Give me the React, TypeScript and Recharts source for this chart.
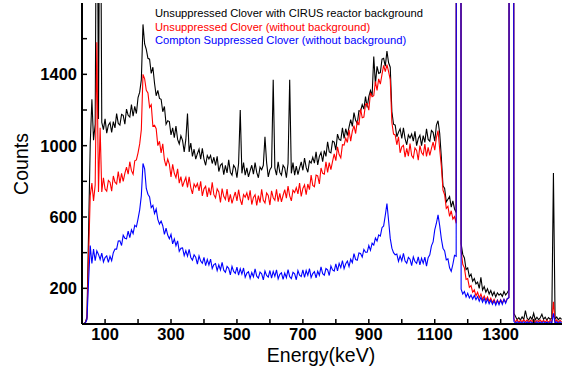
import React from 'react';
import { LineChart, Line, XAxis, YAxis, Legend } from 'recharts';

// spectrum binned at 5 keV starting from 30 keV
const startKeV = 30;
const binKeV = 5;

// Unsuppressed Clover with CIRUS reactor background
const withBackground = [
  0, 2, 8, 40, 520, 1010, 1260, 1030, 1120, 3000, // 30-75
  1150, 3000, 1130, 1090, 1150, 1070, 1115, 1130, 1075, 1135, // 80-125
  1100, 1180, 1125, 1115, 1175, 1170, 1120, 1205, 1170, 1160, // 130-175
  1230, 1165, 1220, 1180, 1270, 1300, 1370, 1680, 1570, 1540, // 180-225
  1490, 1485, 1405, 1440, 1350, 1280, 1310, 1265, 1260, 1190, // 230-275
  1220, 1120, 1140, 1135, 1060, 1100, 1045, 1110, 1035, 1010, // 280-325
  1055, 1030, 965, 1035, 1180, 965, 1015, 940, 980, 925, // 330-375
  955, 980, 925, 985, 925, 890, 945, 925, 945, 900, // 380-425
  935, 890, 940, 855, 890, 900, 838, 890, 847, 920, // 430-475
  850, 835, 890, 875, 820, 900, 1200, 845, 905, 835, // 480-525
  875, 825, 860, 890, 840, 905, 850, 820, 880, 865, // 530-575
  890, 1050, 905, 825, 865, 880, 1370, 875, 835, 910, // 580-625
  850, 835, 890, 875, 820, 900, 1370, 845, 905, 835, // 630-675
  885, 838, 876, 909, 862, 930, 878, 851, 914, 902, // 680-725
  935, 902, 965, 892, 940, 962, 910, 972, 940, 1022, // 730-775
  965, 960, 1025, 1020, 975, 1065, 1035, 1030, 1100, 1040, // 780-825
  1095, 1057, 1104, 1146, 1108, 1185, 1142, 1124, 1196, 1193, // 830-875
  1230, 1205, 1275, 1215, 1275, 1310, 1280, 1500, 1345, 1445, // 880-925
  1405, 1410, 1485, 1490, 1445, 1530, 1465, 1440, 1190, 1120, // 930-975
  1115, 1050, 1075, 1095, 1040, 1100, 1040, 1005, 1060, 1043, // 980-1025
  1065, 1025, 1080, 1000, 1040, 1058, 1000, 1057, 1018, 1095, // 1030-1075
  1035, 1025, 1085, 1075, 1025, 1115, 1140, 1070, 935, 775, // 1080-1125
  760, 685, 700, 715, 655, 690, 645, 625, 20000, 20000, // 1130-1175
  450, 390, 370, 305, 315, 265, 280, 240, 255, 225, // 1180-1225
  235, 200, 262, 190, 210, 178, 198, 168, 188, 160, // 1230-1275
  180, 152, 175, 162, 170, 155, 182, 163, 175, 192, // 1280-1325
  20000, 20000, 60, 42, 24, 36, 22, 40, 25, 75, // 1330-1375
  33, 22, 40, 26, 60, 23, 38, 24, 35, 55, // 1380-1425
  26, 38, 21, 36, 27, 33, 846, 28, 39, 24, // 1430-1475
  35, 26, // 1480-1485
];

// Unsuppressed Clover (without background)
const unsuppressed = [
  0, 2, 6, 30, 380, 720, 790, 690, 780, 1580,
  740, 1100, 740, 820, 757, 745, 805, 795, 745, 830,
  795, 785, 855, 790, 845, 800, 845, 880, 840, 910,
  860, 840, 915, 920, 960, 1010, 1090, 1400, 1375, 1310,
  1295, 1215, 1230, 1110, 1115, 1095, 1000, 1025, 960, 1010,
  920, 885, 925, 895, 825, 895, 845, 820, 870, 790,
  827, 770, 798, 822, 766, 825, 765, 730, 785, 767,
  788, 747, 800, 718, 758, 772, 712, 765, 722, 795,
  725, 707, 758, 740, 682, 759, 716, 698, 756, 684,
  727, 676, 710, 740, 690, 753, 698, 668, 726, 711,
  735, 695, 750, 670, 710, 725, 665, 720, 680, 755,
  693, 679, 735, 721, 667, 747, 708, 694, 755, 686,
  733, 685, 722, 754, 706, 773, 718, 690, 750, 737,
  765, 730, 790, 715, 760, 780, 725, 785, 753, 835,
  777, 770, 835, 830, 785, 875, 845, 840, 910, 850,
  905, 865, 912, 954, 916, 993, 950, 932, 1005, 1003,
  1042, 1018, 1089, 1025, 1081, 1112, 1068, 1139, 1115, 1206,
  1157, 1160, 1233, 1236, 1199, 1297, 1275, 1280, 1360, 1310,
  1375, 1345, 1400, 1450, 1415, 1455, 1415, 1370, 1130, 1065,
  1060, 1005, 1050, 960, 993, 1002, 936, 985, 941, 1012,
  945, 931, 987, 973, 919, 1000, 962, 948, 1009, 940,
  990, 945, 985, 1020, 975, 1045, 1085, 980, 885, 750,
  725, 648, 660, 603, 635, 588, 602, 565, 20000, 20000,
  410, 335, 315, 250, 255, 205, 215, 178, 192, 158,
  178, 148, 168, 138, 158, 133, 152, 126, 145, 120,
  138, 113, 134, 116, 136, 118, 138, 122, 142, 148,
  20000, 20000, 30, 11, 24, 9, 21, 13, 23, 12,
  23, 9, 21, 14, 25, 9, 20, 13, 22, 12,
  21, 11, 22, 10, 20, 13, 125, 12, 23, 9,
  21, 12,
];

// Compton Suppressed Clover (without background)
const suppressed = [
  0, 2, 5, 25, 240, 440, 340, 420, 355, 410,
  390, 362, 398, 348, 373, 382, 345, 380, 355, 400,
  420, 420, 465, 466, 440, 498, 481, 478, 521, 484,
  528, 507, 553, 545, 590, 640, 720, 900, 870, 760,
  728, 712, 653, 665, 620, 645, 587, 560, 577, 551,
  502, 537, 499, 478, 503, 449, 477, 439, 466, 408,
  425, 427, 383, 411, 380, 419, 373, 358, 388, 374,
  336, 382, 353, 340, 373, 327, 362, 331, 364, 311,
  333, 339, 299, 331, 303, 345, 302, 290, 323, 312,
  276, 323, 295, 284, 319, 274, 310, 280, 314, 262,
  285, 293, 256, 289, 265, 309, 268, 257, 291, 281,
  247, 297, 272, 263, 300, 257, 295, 267, 303, 253,
  278, 287, 250, 285, 260, 305, 265, 255, 290, 281,
  248, 299, 274, 266, 303, 261, 300, 273, 310, 260,
  283, 294, 259, 296, 273, 320, 282, 274, 311, 304,
  272, 325, 303, 297, 337, 298, 340, 316, 356, 310,
  338, 353, 322, 363, 344, 395, 361, 357, 398, 395,
  375, 418, 402, 402, 440, 413, 453, 442, 482, 465,
  500, 493, 540, 550, 610, 675, 580, 480, 425, 400,
  388, 392, 351, 382, 354, 396, 353, 341, 374, 363,
  327, 376, 350, 340, 376, 332, 369, 340, 375, 324,
  372, 388, 438, 460, 528, 565, 612, 552, 478, 425,
  410, 360, 365, 315, 295, 335, 385, 380, 20000, 20000,
  195, 168, 182, 152, 172, 146, 163, 140, 160, 136,
  154, 128, 150, 122, 144, 116, 140, 113, 134, 110,
  130, 106, 132, 108, 134, 110, 138, 116, 142, 148,
  20000, 20000, 15, 4, 13, 3, 12, 5, 13, 3,
  12, 4, 13, 5, 10, 3, 13, 4, 12, 4,
  13, 4, 11, 3, 13, 5, 60, 4, 12, 3,
  13, 4,
];

const xTicks = [100, 200, 300, 400, 500, 600, 700, 800, 900, 1000, 1100, 1200, 1300, 1400];
const xLabelled = [100, 300, 500, 700, 900, 1100, 1300];
const yTicks = [200, 400, 600, 800, 1000, 1200, 1400, 1600];
const yLabelled = [200, 600, 1000, 1400];

const legendItems = [
  { label: 'Unsuppressed Clover with CIRUS reactor background', color: '#000000' },
  { label: 'Unsuppressed Clover (without background)', color: '#ff0000' },
  { label: 'Compton Suppressed Clover (without background)', color: '#0000ff' },
];

const rows = withBackground.map((v, i) => ({
  e: startKeV + i * binKeV,
  bg: v,
  unsup: unsuppressed[i],
  sup: suppressed[i],
}));

const font = '"Liberation Sans", Arial, Helvetica, sans-serif';
const tickStyle = { fontFamily: font, fontSize: 16.5, fontWeight: 'bold', fill: '#000' };
const axisLine = { stroke: '#000', strokeWidth: 2 };
const tickLine = { stroke: '#000', strokeWidth: 1.5 };

const LegendBox = () => (
  <div style={{ fontFamily: font, fontSize: 11.2, lineHeight: '13.7px', whiteSpace: 'nowrap' }}>
    {legendItems.map((it) => (
      <div key={it.label} style={{ color: it.color }}>{it.label}</div>
    ))}
  </div>
);

export default function App() {
  return (
    <div style={{ position: 'absolute', left: 0, top: 0, width: 563, height: 372, background: '#fff' }}>
      <LineChart width={563} height={372} data={rows} margin={{ top: 3, right: 1, bottom: 0, left: 0 }}>
        <XAxis
          dataKey="e"
          type="number"
          domain={[30, 1486]}
          allowDataOverflow
          ticks={xTicks}
          interval={0}
          height={48}
          tickSize={-5}
          tickMargin={9}
          tick={tickStyle}
          tickFormatter={(v: number) => (xLabelled.includes(v) ? String(v) : '')}
          axisLine={axisLine}
          tickLine={tickLine}
          label={{
            content: () => (
              <text x={321} y={362} textAnchor="middle" fontFamily={font} fontSize={19.5} fill="#000">
                Energy(keV)
              </text>
            ),
          }}
        />
        <XAxis
          xAxisId="top"
          orientation="top"
          type="number"
          domain={[30, 1486]}
          allowDataOverflow
          ticks={xTicks}
          interval={0}
          height={0}
          tickSize={-5}
          tickFormatter={() => ''}
          axisLine={axisLine}
          tickLine={tickLine}
        />
        <YAxis
          type="number"
          domain={[0, 1800]}
          allowDataOverflow
          ticks={yTicks}
          interval={0}
          width={82}
          tickSize={-5}
          tickMargin={10}
          tick={tickStyle}
          tickFormatter={(v: number) => (yLabelled.includes(v) ? String(v) : '')}
          axisLine={axisLine}
          tickLine={tickLine}
          label={{
            content: () => (
              <text
                x={28}
                y={164}
                transform="rotate(-90, 28, 164)"
                textAnchor="middle"
                fontFamily={font}
                fontSize={19.5}
                fill="#000"
              >
                Counts
              </text>
            ),
          }}
        />
        <YAxis
          yAxisId="right"
          orientation="right"
          type="number"
          domain={[0, 1800]}
          allowDataOverflow
          ticks={yTicks}
          interval={0}
          width={0}
          tickSize={-5}
          tickFormatter={() => ''}
          axisLine={axisLine}
          tickLine={tickLine}
        />
        <Legend
          layout="horizontal"
          verticalAlign="middle"
          align="center"
          content={() => <LegendBox />}
          wrapperStyle={{ left: 155, top: 7, width: 'auto', height: 'auto' }}
        />
        <Line type="linear" dataKey="bg" stroke="#000000" strokeWidth={1.1} dot={false} isAnimationActive={false} />
        <Line type="linear" dataKey="unsup" stroke="#ff0000" strokeWidth={1.1} dot={false} isAnimationActive={false} />
        <Line type="linear" dataKey="sup" stroke="#0000ff" strokeWidth={1.1} dot={false} isAnimationActive={false} />
      </LineChart>
    </div>
  );
}
